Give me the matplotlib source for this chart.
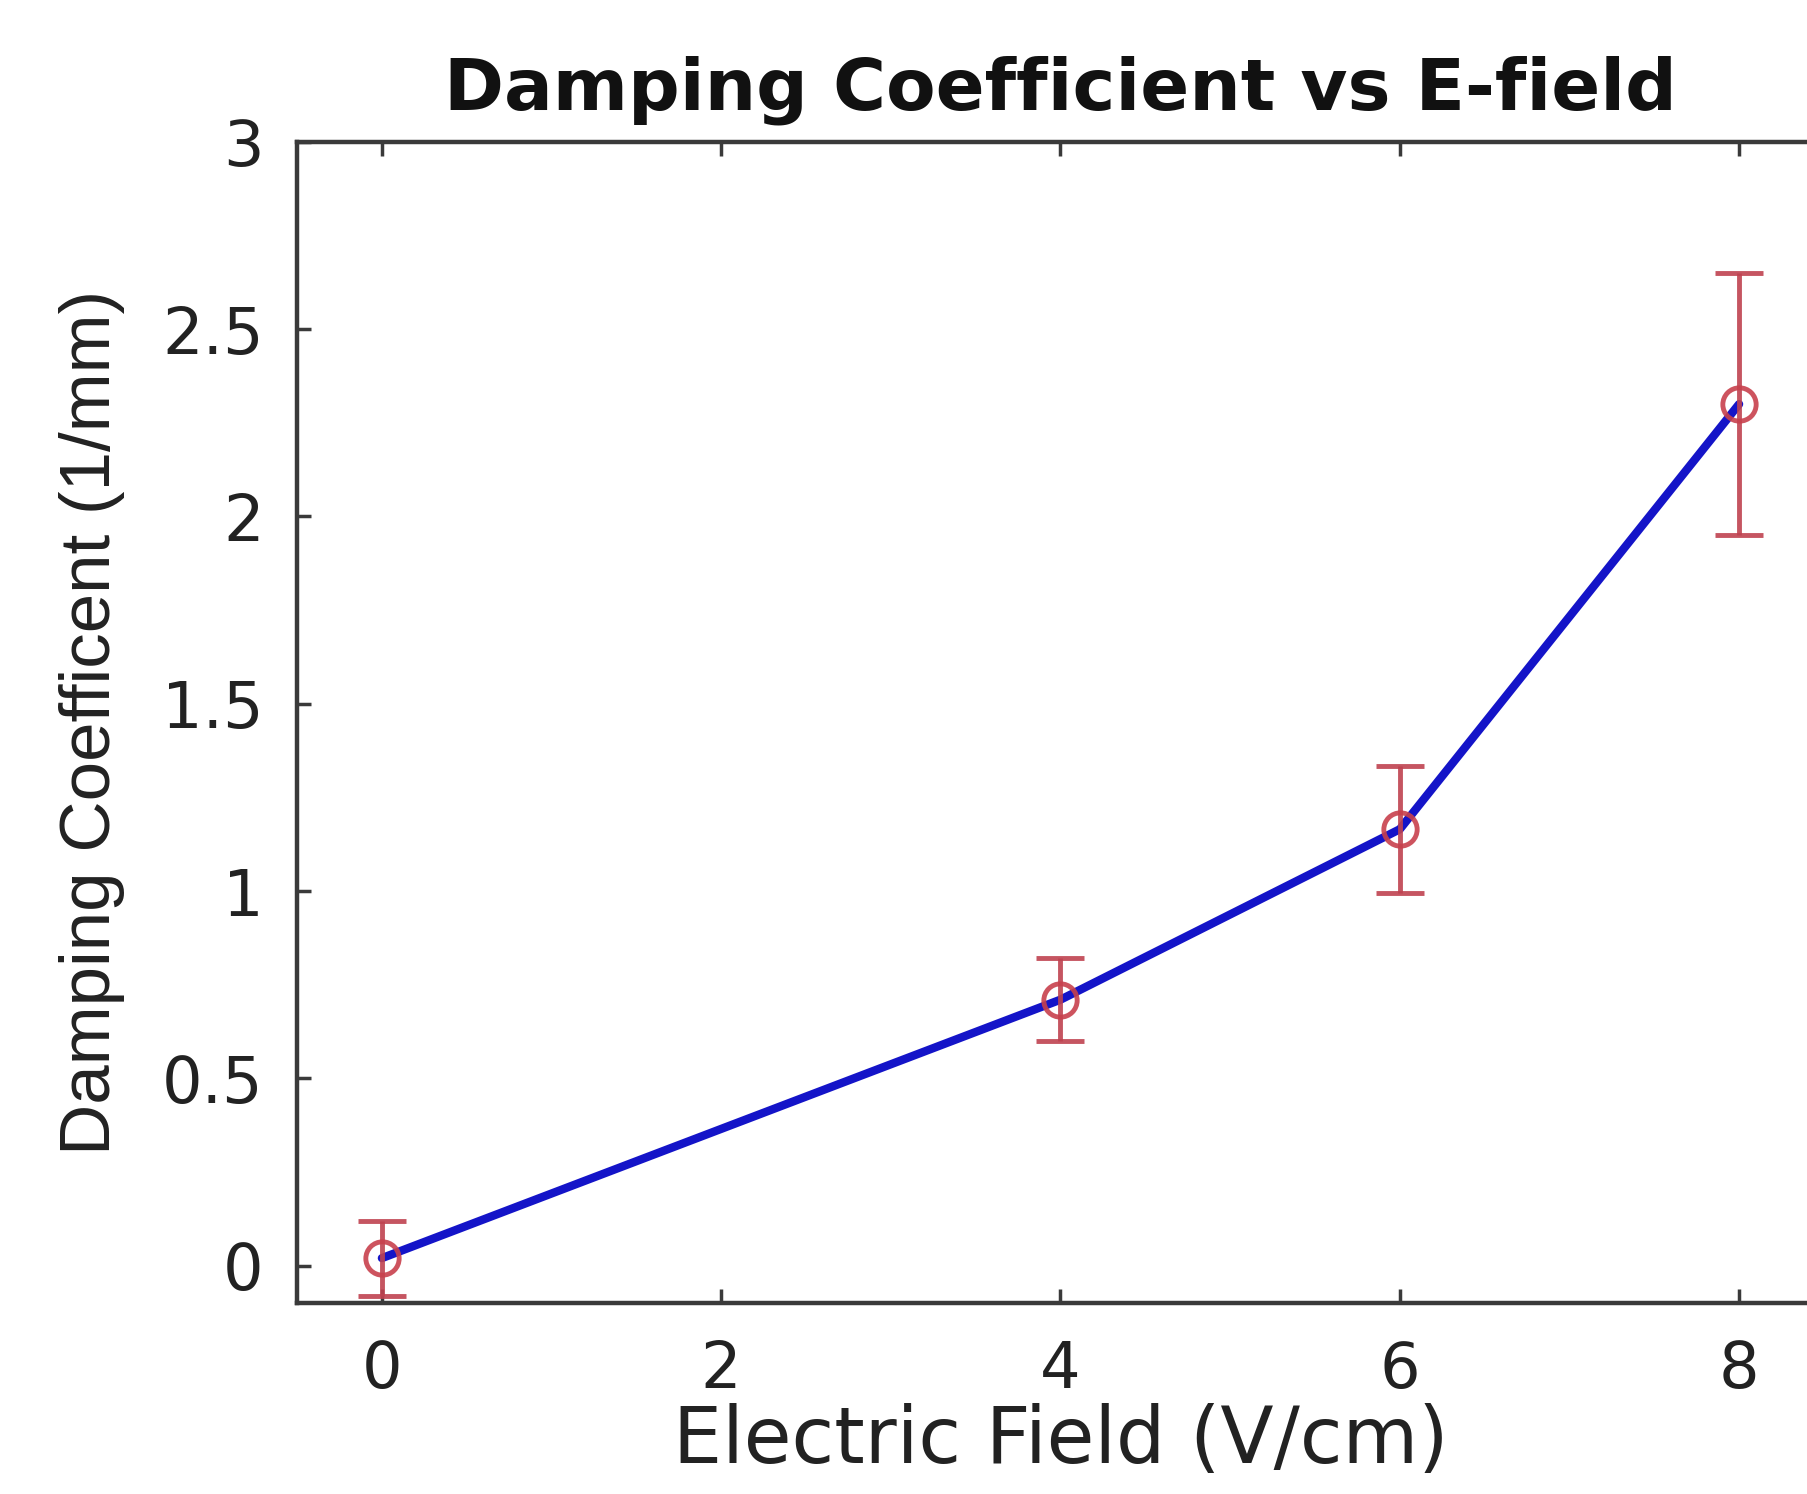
import matplotlib
matplotlib.use("Agg")
import matplotlib.pyplot as plt

# Data
field = [0, 4, 6, 8]
damping = [0.02, 0.71, 1.165, 2.30]
errors = [0.10, 0.11, 0.17, 0.35]
xticks = [0, 2, 4, 6, 8]
yticks = [0, 0.5, 1, 1.5, 2, 2.5, 3]
yticklabels = ["0", "0.5", "1", "1.5", "2", "2.5", "3"]

plt.rcParams['font.family'] = ['DejaVu Sans']

fig = plt.figure(figsize=(18.08, 14.94), dpi=100)
ax = fig.add_axes([0.1643, 0.1278, 0.8445, 0.7772])

ax.plot(field, damping, color='#1414c8', lw=6, zorder=2, solid_capstyle='round')
ax.errorbar(field, damping, yerr=errors, fmt='o', color='#bf4250', mfc='none',
            mec='#c8404c', ms=24, mew=3.5, elinewidth=3.5, capsize=17,
            capthick=3.5, zorder=3, alpha=0.9)

ax.set_xlim(-0.5, 8.5)
ax.set_ylim(-0.1, 3)
ax.set_xticks(xticks)
ax.set_yticks(yticks)
ax.set_yticklabels(yticklabels)

for s in ax.spines.values():
    s.set_linewidth(3.2)
    s.set_color('#3a3a3a')

ax.tick_params(direction='in', length=10, width=2.5, color='#3a3a3a',
               top=True, right=True, labelsize=46, labelcolor='#222222')
ax.tick_params(axis='y', pad=24)
ax.tick_params(axis='x', pad=26)

ax.set_title("Damping Coefficient vs E-field", fontsize=52, fontweight='bold',
             color='#111111', pad=23)
ax.set_xlabel("Electric Field (V/cm)", fontsize=56, color='#222222', labelpad=1)
ax.set_ylabel("Damping Coefficent (1/mm)", fontsize=51, color='#222222',
              labelpad=27, family=['Liberation Sans', 'DejaVu Sans'])

fig.savefig("out.png", dpi=100)
